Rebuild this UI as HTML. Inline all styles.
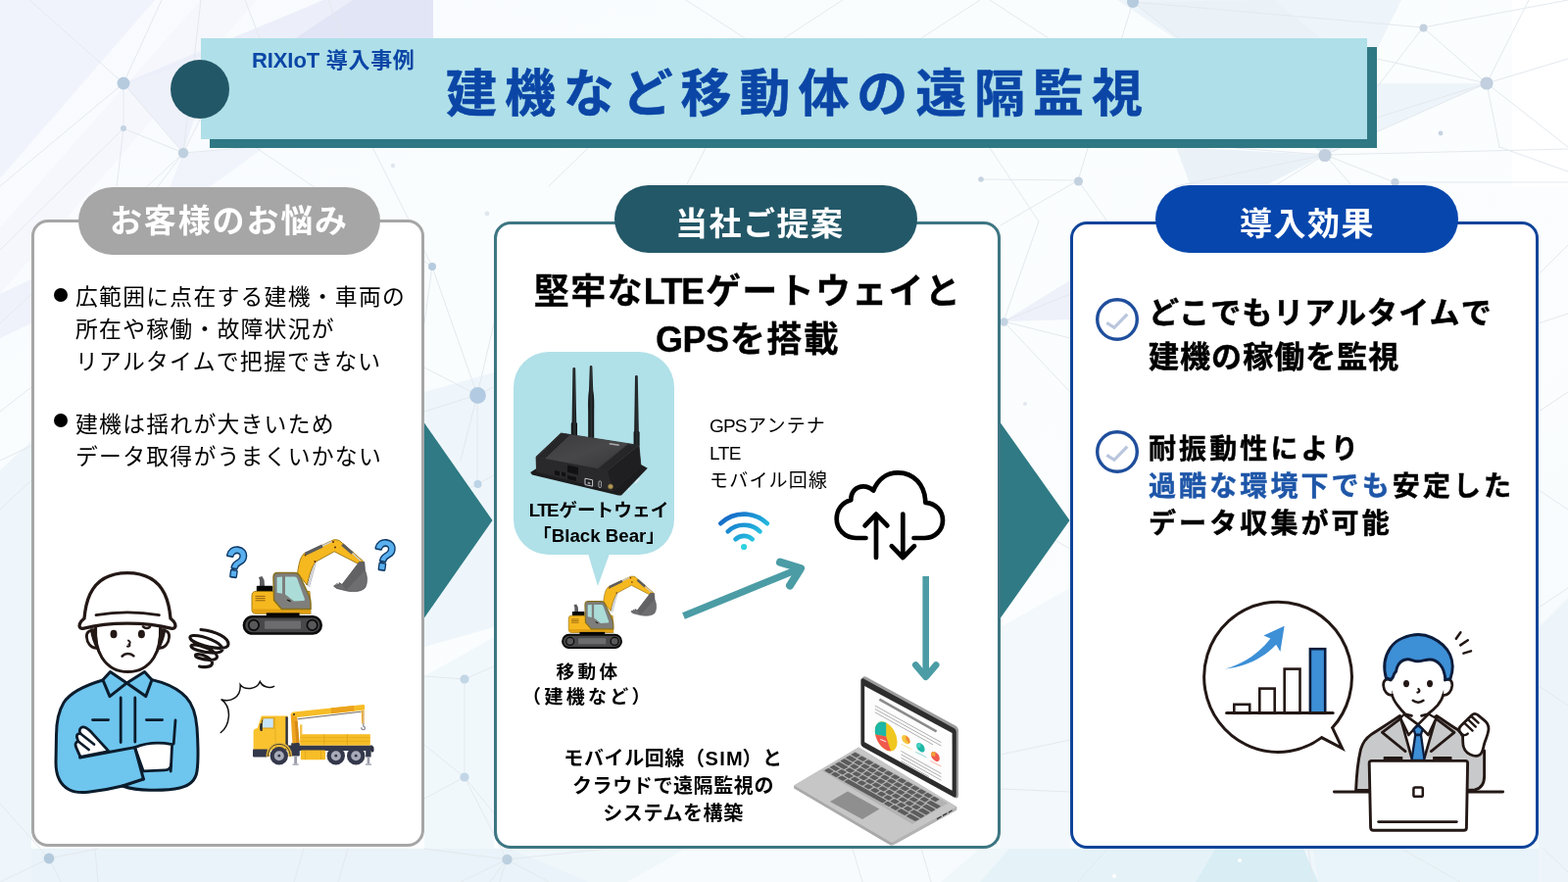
<!DOCTYPE html>
<html lang="ja">
<head>
<meta charset="utf-8">
<title>建機など移動体の遠隔監視</title>
<style>
*{margin:0;padding:0;box-sizing:border-box}
html,body{width:1600px;height:900px;overflow:hidden;background:#f7fbfd}
body{font-family:"Liberation Sans","Noto Sans CJK JP",sans-serif;color:#000;position:relative}
.abs{position:absolute}
svg.layer{position:absolute;left:0;top:0;width:1600px;height:900px;overflow:visible}
.t{position:absolute;white-space:nowrap;line-height:1;will-change:transform}
.t span{line-height:0}
.b{font-weight:700}
.c{text-align:center}
.card{position:absolute;background:#fff;border-style:solid;border-width:3.7px;border-radius:17px}
.pill{position:absolute;border-radius:40px;color:#fff;font-weight:700;text-align:center;white-space:nowrap}
</style>
</head>
<body>

<!-- BACKGROUND -->
<svg class="layer" id="bg" viewBox="0 0 1600 900">
<defs>
<linearGradient id="bgBase" x1="0" y1="0" x2="1" y2="1">
<stop offset="0" stop-color="#f8fafe"/><stop offset="0.3" stop-color="#fafdfe"/><stop offset="0.7" stop-color="#fbfdfe"/><stop offset="1" stop-color="#f3f9fc"/>
</linearGradient>
</defs>
<rect x="0" y="0" width="1600" height="900" fill="url(#bgBase)"/>
<!-- pale polygons -->
<g stroke="none">
<polygon points="0,0 158,0 0,182" fill="#f1f3fc"/>
<polygon points="0,232 205,0 262,0 0,300" fill="#f3f5fc" opacity="0.7"/>
<polygon points="126,85 330,0 442,0 442,45 205,64" fill="#eceff9"/>
<polygon points="360,0 442,0 442,40 300,40" fill="#e1e5f6"/>
<polygon points="126,85 205,62 205,100 187,156" fill="#eef1fa"/>
<polygon points="187,156 270,150 215,190 160,225" fill="#eef1fa" opacity="0.8"/>
<polygon points="1140,0 1430,0 1352,158 1200,40" fill="#eef5fa"/>
<polygon points="1156,2 1300,0 1405,85 1352,158" fill="#e8f1f8" opacity="0.8"/>
<polygon points="1405,85 1517,85 1352,158" fill="#eef5fa"/>
<polygon points="1200,150 1352,158 1290,190 1215,190" fill="#eaf2f8"/>
<polygon points="1543,0 1600,0 1600,190 1543,190" fill="#ffffff"/>
<polygon points="433,400 504,380 504,640 433,660" fill="#eef6fb"/>
<polygon points="433,690 504,650 504,880 433,880" fill="#f1f8fc"/>
<polygon points="1021,640 1092,600 1092,900 1021,900" fill="#f2f8fb"/>
<polygon points="1024,328 1092,286 1092,326" fill="#eef0fa"/>
<polygon points="0,866 1600,866 1600,900 0,900" fill="#eff7fb"/>
<polygon points="0,866 520,866 600,900 0,900" fill="#e9f3f9"/>
<polygon points="1340,866 1600,866 1600,900 1345,900" fill="#e8f4f9"/>
<polygon points="1000,900 1030,866 1240,866 1220,900" fill="#e5f3f8"/>
<polygon points="1220,900 1240,866 1330,866 1345,900" fill="#d8edf4"/>
<polygon points="640,900 700,866 1000,866 960,900" fill="#f7fbfd"/>
<polygon points="1570,640 1600,610 1600,900 1570,900" fill="#eef5fa"/>
<polygon points="0,480 32,450 32,900 0,900" fill="#eef6fb"/>
<polygon points="0,300 32,285 32,330 0,345" fill="#f0f2fb"/>
</g>
<!-- lines -->
<g stroke="#e4e9ee" stroke-width="1" fill="none" stroke-linecap="round">
<path d="M126 85 L30 0 M126 85 L165 0 M126 85 L0 190 M126 85 L126 131 M126 85 L187 156 M126 131 L187 156 M126 131 L118 200 M187 156 L205 0 M187 156 L205 120 M187 156 L260 150 M187 156 L150 205 M187 156 L0 330 M126 131 L0 255"/>
<path d="M250 0 L265 39 M335 0 L350 39 M0 420 L32 395 M0 470 L32 455 M0 520 L32 490"/>
<path d="M260 150 L441 272 M441 272 L487 403 M441 272 L433 330 M380 150 L441 272 M487 403 L433 375 M487 403 L433 420 M487 403 L504 395 M487 403 L487 494 M487 403 L504 330 M487 403 L470 470 M487 494 L504 485 M487 494 L433 520"/>
<path d="M433 690 L474 693 M474 693 L504 680 M474 693 L474 793 M474 793 L433 815 M474 793 L504 830 M474 793 L517 877 M433 760 L474 793"/>
<path d="M50 876 L0 820 M50 876 L0 900 M50 876 L100 866 M50 876 L62 900 M517 877 L433 866 M517 877 L470 900 M517 877 L500 900 M517 877 L560 900 M517 877 L620 866 M517 877 L510 900 M97 866 L100 900 M310 866 L300 900 M355 866 L345 900"/>
<path d="M1001 183 L1100 184 M1100 184 L1156 2 M1100 184 L1021 230 M1100 184 L1130 226 M1156 2 L1352 158 M1156 2 L1452 28 M1452 28 L1517 85 M1452 28 L1600 0 M1452 28 L1352 158 M1517 85 L1352 158 M1517 85 L1405 60 M1517 85 L1405 120 M1517 85 L1600 60 M1517 85 L1600 150 M1517 85 L1530 150 M1517 85 L1560 0 M1352 158 L1600 152 M1352 158 L1200 190 M1352 158 L1423 186 M1352 158 L1405 110 M1352 158 L1300 190 M1352 158 L1380 190 M1352 158 L1260 151 M1423 186 L1600 186 M1530 150 L1600 175"/>
<path d="M1024 328 L1092 300 M1024 328 L1092 400 M1024 328 L1060 226 M1024 328 L1092 345 M1021 520 L1092 560 M1021 770 L1092 755 M1021 805 L1092 808"/>
<path d="M1570 280 L1600 250 M1570 330 L1600 320 M1570 420 L1600 400 M1570 500 L1600 520 M1570 620 L1600 600 M1570 700 L1600 720 M1575 866 L1600 890 M1100 900 L1130 866 M950 900 L940 866 M880 900 L870 866 M1340 900 L1335 866 M1430 866 L1490 900"/>
<path d="M700 0 L760 39 M860 0 L800 39 M1000 0 L940 39 M1010 0 L1070 39 M600 151 L560 190 M720 151 L700 190 M1010 151 L1060 226"/>
</g>
<!-- nodes -->
<g fill="#b6cbde">
<circle cx="126" cy="85" r="6.5"/><circle cx="126" cy="131" r="3" fill="#c3d3e2"/><circle cx="187" cy="156" r="5.2" fill="#bed0e0"/>
<circle cx="441" cy="272" r="4" /><circle cx="401" cy="169" r="2.2" fill="#dfe6ee"/><circle cx="497" cy="218" r="2.4" fill="#e0e6ee"/>
<circle cx="487.5" cy="403.5" r="8.4" fill="#b3cbe2"/><circle cx="487.5" cy="494" r="4" fill="#bdd3e6"/>
<circle cx="474" cy="693" r="4.6" fill="#c2d6e6"/><circle cx="474" cy="793" r="4.6" fill="#c2d6e6"/>
<circle cx="50" cy="876" r="5.4" fill="#b3cadd"/><circle cx="517.5" cy="877" r="5.2" fill="#bdd0df"/>
<circle cx="1001" cy="183" r="2.8" fill="#c6d3e0"/><circle cx="1100.5" cy="185" r="4.6" fill="#c3d1df"/><circle cx="1156" cy="2" r="6"/>
<circle cx="1452.5" cy="28.5" r="4" fill="#c3d1df"/><circle cx="1517" cy="85" r="6.6" fill="#c1cfde"/><circle cx="1352" cy="158.5" r="6.6" fill="#c1cfde"/>
<circle cx="1470" cy="136" r="2.4" fill="#c6d3e0"/><circle cx="1423.5" cy="186" r="4.2" fill="#c6d3e0"/>
<circle cx="1024.5" cy="328.5" r="4.2" fill="#c3d3e2"/><circle cx="1046" cy="412" r="2" fill="#e3e8ef"/>
<circle cx="1265" cy="878" r="2" fill="#ffffff"/><circle cx="1137" cy="894" r="2" fill="#ffffff"/>
</g>

</svg>

<!-- HEADER -->
<div class="abs" style="left:214.2px;top:48px;width:1190.8px;height:102.8px;background:#2e7884"></div>
<div class="abs" style="left:204.5px;top:39px;width:1190.5px;height:103px;background:#afdfe8"></div>
<div class="abs" style="left:174px;top:60.7px;width:60px;height:60px;border-radius:50%;background:#225767"></div>
<div class="t b" id="sub" style="left:257.2px;top:50.5px;font-size:22px;letter-spacing:0.65px;color:#0b46a6"><span id="sub_l" style="letter-spacing:-0.1px">RIXIoT</span> 導入事例</div>
<div class="t b" id="title" style="left:454.5px;top:70.1px;font-size:52px;letter-spacing:7.9px;color:#0b46a6;-webkit-text-stroke:0.5px #0b46a6">建機など移動体の遠隔監視</div>

<!-- ARROWS BETWEEN PANELS -->
<svg class="layer" viewBox="0 0 1600 900">
<polygon points="420,413 502.5,531 420,649" fill="#2f7a84"/>
<polygon points="1010,416 1091.5,531 1010,646" fill="#2f7a84"/>
</svg>

<!-- PANEL 1 -->
<div class="card" style="left:32px;top:224.3px;width:401px;height:639.7px;border-color:#a6a6a6"></div>
<div class="pill" style="left:79.8px;top:190.8px;width:308.2px;height:68.8px;background:#a6a6a6"></div>
<div class="t b" id="p1h" style="left:111.5px;top:209.4px;font-size:33px;letter-spacing:1.85px;color:#fff">お客様のお悩み</div>

<div class="abs" style="left:55.2px;top:294.4px;width:14px;height:14px;border-radius:50%;background:#000"></div>
<div class="t" id="p1a" style="left:76.8px;top:286.5px;font-size:22.8px;letter-spacing:1.28px;line-height:33px">広範囲に点在する建機・車両の<br>所在や稼働・故障状況が<br>リアルタイムで把握できない</div>
<div class="abs" style="left:55.2px;top:422.4px;width:14px;height:14px;border-radius:50%;background:#000"></div>
<div class="t" id="p1b" style="left:76.8px;top:416.6px;font-size:22.8px;letter-spacing:1.28px;line-height:33.3px">建機は揺れが大きいため<br>データ取得がうまくいかない</div>

<!-- PANEL 2 -->
<div class="card" style="left:504.2px;top:226px;width:516.8px;height:640px;border-color:#3d7683"></div>
<div class="pill" style="left:626.8px;top:189px;width:309.2px;height:69px;background:#235868"></div>
<div class="t b" id="p2h" style="left:689.2px;top:212px;font-size:33px;letter-spacing:1.5px;color:#fff">当社ご提案</div>

<div class="t b c" id="p2t" style="left:504.5px;width:516px;top:273px;font-size:36px;letter-spacing:1.3px;line-height:49px;-webkit-text-stroke:0.3px #000">堅牢な<span id="p2t_l1" style="letter-spacing:-1.5px;margin-right:2.5px">LTE</span>ゲートウェイと<br><span id="p2t_l2" style="letter-spacing:-0.5px;margin-right:1.5px">GPS</span>を搭載</div>

<div class="abs" style="left:524px;top:359px;width:164px;height:207px;border-radius:36px;background:#b0e0e8"></div>
<svg class="layer" viewBox="0 0 1600 900">
<polygon points="600,565 622,565 610,598" fill="#b0e0e8"/>
</svg>
<div class="t b c" id="gwl" style="left:528.5px;width:164px;top:508px;font-size:18.7px;line-height:26px"><span id="gwl_l1" style="letter-spacing:-1.5px;margin-right:1.2px">LTE</span>ゲートウェイ<br>「<span id="gwl_l2">Black Bear</span>」</div>

<div class="t" id="gps" style="left:724px;top:421px;font-size:19px;letter-spacing:1.2px;line-height:27.8px"><span id="gps_l1" style="letter-spacing:-0.9px;margin-right:1.6px">GPS</span>アンテナ<br><span id="gps_l2" style="letter-spacing:-0.5px">LTE</span><br>モバイル回線</div>

<div class="t b c" id="mob" style="left:530px;width:140px;top:673px;font-size:19px;letter-spacing:3.3px;line-height:25.5px"><span style="font-size:18.6px;letter-spacing:3.45px;margin-left:1px">移動体</span><br>（建機など）</div>

<div class="t b c" id="p2b" style="left:546.8px;width:280px;top:761.3px;font-size:20px;letter-spacing:0.6px;line-height:27.8px">モバイル回線（<span id="p2b_l" style="letter-spacing:1.3px;margin-right:-1.6px">SIM</span>）と<br>クラウドで遠隔監視の<br>システムを構築</div>

<!-- PANEL 3 -->
<div class="card" style="left:1092px;top:226px;width:478px;height:640px;border-color:#0e4499"></div>
<div class="pill" style="left:1179px;top:189px;width:309px;height:69px;background:#0747ad"></div>
<div class="t b" id="p3h" style="left:1265px;top:211.5px;font-size:33px;letter-spacing:1.5px;color:#fff">導入効果</div>

<div class="t b" id="p3a" style="left:1171.6px;top:297.8px;font-size:31px;letter-spacing:1.05px;line-height:44.7px;-webkit-text-stroke:0.5px #000">どこでもリアルタイムで<br>建機の稼働を監視</div>
<div class="t b" id="p3b" style="left:1172px;top:440px;font-size:28px;letter-spacing:3.1px;line-height:38.2px;-webkit-text-stroke:0.45px">耐振動性により<br><span style="color:#1e56a8">過酷な環境下でも</span>安定した<br>データ収集が可能</div>

<!-- ICONS / ILLUSTRATIONS -->
<svg class="layer" id="art" viewBox="0 0 1600 900">
<defs>
<linearGradient id="wifiG" gradientUnits="userSpaceOnUse" x1="740" y1="522" x2="768" y2="560">
<stop offset="0" stop-color="#1560c4"/><stop offset="0.55" stop-color="#1e9fd8"/><stop offset="1" stop-color="#2fd6e2"/>
</linearGradient>
</defs>
<!-- check icons -->
<g fill="none" stroke-linecap="round" stroke-linejoin="round">
<circle cx="1140" cy="326" r="20.3" stroke="#1f4e9c" stroke-width="3.4" fill="#fff"/>
<path d="M1129.3 329.3 L1137 334.3 L1150.3 320.6" stroke="#b9c6dd" stroke-width="3.2" stroke-linecap="butt" stroke-linejoin="miter"/>
<circle cx="1140" cy="461" r="20.3" stroke="#1f4e9c" stroke-width="3.4" fill="#fff"/>
<path d="M1129.3 464.3 L1137 469.3 L1150.3 455.6" stroke="#b9c6dd" stroke-width="3.2" stroke-linecap="butt" stroke-linejoin="miter"/>
</g>
<!-- diagonal arrow -->
<g fill="none" stroke="#4b9ca5" stroke-linejoin="round">
<path d="M697.5 628.5 L814 581" stroke-width="7.2" stroke-linecap="butt"/>
<path d="M796 573.6 L817 580 L806 597.5" stroke-width="8" stroke-linecap="round"/>
<!-- down arrow -->
<path d="M944.7 588 L944.7 690" stroke-width="6.6" stroke-linecap="butt"/>
<path d="M934.3 678.5 L944.7 690.8 L955.2 678.5" stroke-width="6.6" stroke-linecap="round"/>
</g>
<!-- wifi -->
<g fill="none" stroke="url(#wifiG)" stroke-width="4.6" stroke-linecap="round">
<path d="M735.4 534.2 A34 34 0 0 1 782.8 534.2"/>
<path d="M742.8 542.3 A23.5 23.5 0 0 1 775.4 542.3"/>
<path d="M750.6 550.2 A12.5 12.5 0 0 1 767.6 550.2"/>
</g>
<circle cx="759.1" cy="558" r="3.1" fill="#2fd2e0"/>
<!-- cloud -->
<g fill="none" stroke="#000" stroke-width="4.7" stroke-linecap="round" stroke-linejoin="round">
<path d="M883.5 549 L873.5 549 C862 549 853.7 540 853.7 529.5 C853.7 520 859.5 512.5 868.3 510.2 C868.3 502 873.5 496.3 881 496.3 C885 496.3 888.3 497.8 891.2 500.6 C895.5 489.5 904.5 482.3 916.5 482.3 C932 482.3 944 494.5 944.3 512.8 C954.5 513.5 962 521 962 531 C962 541 954 549 943.5 549 L932.5 549"/>
<path d="M894 569 L894 524.8 M882.6 536.4 L894 524.6 L905.4 536.4"/>
<path d="M921.3 524.5 L921.3 569 M909.8 557.2 L921.3 569 L933 557.2"/>
</g>
<!-- callout question marks -->
<g font-family="'Liberation Sans','DejaVu Sans',sans-serif" font-weight="700" fill="#5ab0ee" stroke="#0e3a68" stroke-width="3.2" paint-order="stroke" stroke-linejoin="round" style="paint-order:stroke">
<text x="0" y="0" font-size="42.5" text-anchor="middle" transform="translate(238.8 588.3) rotate(8) scale(0.86 1)">?</text>
<text x="0" y="0" font-size="42.5" text-anchor="middle" transform="translate(390.3 581) rotate(8) scale(0.86 1)">?</text>
</g>
<!-- spiral scribble -->
<path d="M205 642.5 C221 644 233.5 651 233 657.5 C232.5 663.5 216 662 203 657 C193 653.5 191.5 649 197 648.5 C207 648 226 655.5 227 662 C227.5 667.5 213 667 201.5 663.5 C194.5 661.5 193 658 197.5 658 C205.5 658 221 664.5 221.5 670 C221.5 674.5 210 674 203 671.5 C198.5 670 198.5 667.5 202 667.5 C208 667.5 217 672.5 216.5 677 C216 681 207 681 203.5 680" fill="none" stroke="#1a1413" stroke-width="3.1" stroke-linecap="round" stroke-linejoin="round"/>
<!-- shout lines -->
<path d="M225.3 747.5 C234 741 238 722 225.6 713.6 C235 717 246 712 245.2 698.8 C249.5 704.5 262 704 265.3 695.6 C267.5 700.5 274.5 703 279.6 700.4" fill="none" stroke="#111" stroke-width="1.5" stroke-linecap="round" stroke-linejoin="miter"/>
<g id="worker" stroke-linecap="round" stroke-linejoin="round" fill="none">
<!-- body -->
<path d="M105 694 C88 699 72 706 65 717 C59 727 57.5 738 57.5 750 L57 778 C57 792 62 801 70 805.5 C76 808.8 83 809 90 808.2 C103 806.8 114 804.8 125 802 C134 805.2 143 806.2 153 806.2 C164 806.4 175 806 183.5 804 C193 801.8 199.5 797 201 787 C202.4 777 202.2 760 201 742.5 C200 730 197 719 190 711.5 C183 704 174 699.5 165 696.4 L155 693.6 L129.4 697 Z" fill="#6ec5ee" stroke="#0b1c2c" stroke-width="3"/>
<!-- neck -->
<path d="M112.5 685.6 L129.4 696.9 L147.5 685.6 L147.5 680 L112.5 680 Z" fill="#fff" stroke="none"/>
<!-- collar -->
<path d="M105 693.8 L112.5 685.6 L129.4 696.9 L112 710.6 Z" fill="#6ec5ee" stroke="#0b1c2c" stroke-width="3"/>
<path d="M147.5 685.6 L155 693.8 L148.8 710.6 L129.4 696.9 Z" fill="#6ec5ee" stroke="#0b1c2c" stroke-width="3"/>
<!-- shirt details -->
<path d="M123.2 712 V757.5 M137.8 712 V757" stroke="#0b1c2c" stroke-width="2.8"/>
<path d="M94.5 734.6 H110.6 M149.4 734.6 H165.6" stroke="#0b1c2c" stroke-width="2.8"/>
<path d="M179 735 L177.2 759" stroke="#0b1c2c" stroke-width="2.8"/>
<!-- right forearm (white) -->
<path d="M137.6 762.6 C148 758.4 160 756.6 175.6 759.6 L174.6 780 C174.4 784 172 785.8 168 785.8 L146.2 786.8 Z" fill="#fff" stroke="#0b1c2c" stroke-width="2.8"/>
<path d="M174.6 780 L174.2 787" stroke="#0b1c2c" stroke-width="2.8"/>
<!-- left sleeve edge + cuff -->
<path d="M81.6 773 L137.6 762.6 L146.4 795" stroke="#0b1c2c" stroke-width="3"/>
<path d="M125 802 L146.4 795" stroke="#0b1c2c" stroke-width="3"/>
<!-- left hand (white) -->
<path d="M82 772.4 L77.6 762.4 C76.4 759.6 77.4 757 79.8 756.4 L78.6 752.8 C77.8 750 79.6 748 82 748.4 L81.4 746.6 C80.8 743.2 83.4 741.2 86.4 742.2 C89 743 91 745 93.6 747.6 L111 766.6 Z" fill="#fff" stroke="#0b1c2c" stroke-width="2.8"/>
<path d="M82 748.6 L96 759.6 M79.8 756.4 L90.6 765" stroke="#0b1c2c" stroke-width="2.6"/>
<!-- head -->
<path d="M97.6 640 C97 652 99 663 104 671 C110 680.4 119 685.6 130.4 685.6 C142 685.6 151 680.4 157 671 C162 663 164 652 163.6 640" fill="#fff" stroke="#231815" stroke-width="3"/>
<!-- ears + strap -->
<path d="M97.4 645.4 C92 641.6 88 644.6 88.4 650 C88.8 656 92.6 661 98.6 661.4" fill="#fff" stroke="#231815" stroke-width="2.8"/>
<path d="M163.8 645.4 C169 641.6 173 644.6 172.6 650 C172.2 656 168.6 661 162.6 661.4" fill="#fff" stroke="#231815" stroke-width="2.8"/>
<path d="M92.6 642 C93.4 648 95.6 656 99.6 663 L104 671 L99 660 L97.8 642 Z" fill="#231815" stroke="#231815" stroke-width="1.6"/>
<path d="M168.6 642 C167.8 648 165.6 656 161.6 663 L157 671 L162 660 L163.4 642 Z" fill="#231815" stroke="#231815" stroke-width="1.6"/>
<!-- helmet -->
<path d="M84.6 641.4 C81.6 641.8 80.4 639.4 81.4 636.6 C82.2 634.2 84 632.6 86 631 C86.8 622 88.4 613.6 92 606 C99 591.6 113 584.6 130 584.6 C147 584.6 161 591.6 168 606 C171.6 613.6 173.2 622 174 631 C176 632.6 177.8 634.2 178.6 636.6 C179.6 639.4 178.4 641.8 175.4 641.4 C160 637.4 145 636.2 130 636.2 C115 636.2 100 637.4 84.6 641.4 Z" fill="#fff" stroke="#231815" stroke-width="3.3"/>
<path d="M98 627.6 C119 624 141 624 162.4 627.6" stroke="#231815" stroke-width="2.8"/>
<!-- face -->
<ellipse cx="116" cy="647" rx="3.5" ry="4.3" fill="#231815"/>
<ellipse cx="144.4" cy="647" rx="3.5" ry="4.3" fill="#231815"/>
<path d="M146 639.4 C148 641.4 151.6 641.6 153 639.6" stroke="#231815" stroke-width="2.6"/>
<path d="M131 653.6 C133.4 654.6 133 657 131.4 657.4 C133.2 658 132.6 660 130 659.6" stroke="#231815" stroke-width="2"/>
<path d="M124.6 669.6 C127.6 666.2 133.4 666.2 136.4 669.4" stroke="#231815" stroke-width="2.6"/>
</g>
<defs>
<g id="exc">
<!-- under-boom hydraulic rods -->
<path d="M322.5 573 L315.5 599 M320.8 573 L314 598 M319.3 572 L312.5 597" stroke="#a9acb6" stroke-width="0.9" fill="none"/>
<!-- boom -->
<path d="M303.6 585 C304.4 578 305.6 572.6 307.4 568.6 L309.8 565.2 L337.6 552.2 C340 550.4 344 550.2 346.6 551.8 L370.5 572.6 L367.6 576.4 L341.2 562.8 L321.8 573.4 C318 579 315 588 313.4 597 Z" fill="#f6b81f" stroke="#9a7412" stroke-width="0.9" stroke-linejoin="round"/>
<path d="M311.6 565.2 L329 557" stroke="#5c5c5e" stroke-width="3.4" stroke-linecap="butt" fill="none"/>
<path d="M329 557 L338.5 552.6" stroke="#c9ccd4" stroke-width="1.4" fill="none"/>
<path d="M349.3 555.6 L359.6 564.6" stroke="#5c5c5e" stroke-width="3.2" fill="none"/>
<path d="M359.6 564.6 L367.8 572" stroke="#c9ccd4" stroke-width="1.4" fill="none"/>
<circle cx="340" cy="553" r="1" fill="#5a2a10"/><circle cx="342" cy="558.6" r="1" fill="#5a2a10"/><circle cx="311.5" cy="566.5" r="0.9" fill="#5a2a10"/><circle cx="321.3" cy="573" r="0.9" fill="#5a2a10"/>
<!-- bucket -->
<path d="M366.6 573.4 L371.8 573.6 L372.4 582 C375 588 375.3 595 372.4 600 C369 603.4 362 604.4 354 603 L343.5 600.4 L340.6 598.2 L342 596.6 L344 598 L343.6 595.4 L346 597 L346 594.6 L349 596.4 Z" fill="#6e6e70" stroke="#4a4a4c" stroke-width="0.7" stroke-linejoin="round"/>
<path d="M366.6 573.4 L371.8 573.6 L372.4 582 L353 602.6 L349 596.4 Z" fill="#5a5a5c" opacity="0.55"/>
<!-- engine / exhaust -->
<path d="M265 598 L265 592.5 L264 589 L267.5 588 L269.6 592 L270 598 Z" fill="#5c5c5e"/>
<rect x="261.8" y="597.8" width="16.6" height="6.4" rx="1" fill="#050505"/>
<!-- body -->
<path d="M261 603.4 L316 603.4 L317 626.2 L261 626.2 C258.5 626.2 257 624.5 257 622.5 L257 607.5 C257 605 258.6 603.4 261 603.4 Z" fill="#f6b81f" stroke="#9a7412" stroke-width="0.9"/>
<path d="M257.4 621.6 L316.8 621.6 L317 626 L261 626 C258.6 626 257.4 624.4 257.4 622.6 Z" fill="#e2a112"/>
<path d="M260.6 608.4 H270.6 M260.6 610.6 H270.6 M260.6 612.8 H270.6" stroke="#7a4b12" stroke-width="0.8" fill="none"/>
<!-- cab -->
<path d="M279 589 C279 586 280.6 584.4 283.4 584.4 L300.4 584.4 C303.4 584.4 305 585.8 306.2 588.4 L315.4 608 C316.6 610.8 317 613 317 616 L317 621.4 L287.4 621.4 L279.6 612.6 Z" fill="#7e7e7c" stroke="#86701c" stroke-width="1.5" stroke-linejoin="round"/>
<path d="M282.6 589 L288 588.6 L288 605.8 L282.6 604.8 Z" fill="#abdcd8"/>
<path d="M291 588.6 L300.6 588.6 C302 588.6 302.8 589.4 303.4 590.8 L310.8 611 C311.2 612.4 310.6 613 309.4 613 L300 613.6 L291 606.4 Z" fill="#abdcd8"/>
<path d="M293 612 L296.4 613.6" stroke="#111" stroke-width="1.3" fill="none"/>
<!-- undercarriage -->
<rect x="271.8" y="625.4" width="33.8" height="4" fill="#050505"/>
<rect x="248.9" y="629.3" width="78.8" height="17.2" rx="8.6" fill="#48484a" stroke="#0a0a0a" stroke-width="2.6"/>
<circle cx="258.9" cy="637.9" r="5.2" fill="#58585a" stroke="#0a0a0a" stroke-width="1.7"/>
<circle cx="318.6" cy="637.9" r="5.2" fill="#58585a" stroke="#0a0a0a" stroke-width="1.7"/>
<rect x="270" y="633.6" width="37" height="8.2" rx="0.8" fill="#6c6c6e"/>
</g>
</defs>
<use href="#exc"/>
<use href="#exc" transform="translate(573 661.9) scale(0.761) translate(-247.5 -647.75)"/>
<g id="truck">
<!-- chassis -->
<rect x="293" y="760.4" width="87.4" height="5.6" rx="1" fill="#34384b"/>
<rect x="378.5" y="761.5" width="3" height="6" rx="1.5" fill="#2a2d3c"/>
<!-- outriggers -->
<rect x="297.2" y="758" width="8.6" height="13.6" rx="1" fill="#34384b"/>
<rect x="300.2" y="771" width="2.8" height="9" fill="#9a9da8"/>
<rect x="298.6" y="779.2" width="6" height="1.8" fill="#b4b6bf"/>
<rect x="373.2" y="765" width="5.4" height="7.5" fill="#34384b"/>
<rect x="374.6" y="772" width="2.6" height="8" fill="#9a9da8"/>
<rect x="373" y="779.2" width="6" height="1.8" fill="#b4b6bf"/>
<!-- tank -->
<rect x="306.8" y="765.6" width="25.2" height="9.6" rx="1" fill="#f7bd27"/>
<path d="M311.5 766 V775 M327.5 766 V775" stroke="#e0a51c" stroke-width="0.8"/>
<!-- flatbed -->
<rect x="306.2" y="749.2" width="71.6" height="11.4" fill="#f7bd27"/>
<path d="M306.2 752.6 H377.8 M306.2 756.4 H377.8" stroke="#e8ad1e" stroke-width="0.9"/>
<path d="M330.8 749.2 V760.6 M354.4 749.2 V760.6" stroke="#e0a51c" stroke-width="0.9"/>
<rect x="306" y="739.4" width="2.4" height="10.4" fill="#f2c44a"/>
<!-- crane column -->
<path d="M296.6 728.5 L302.8 728 L305.6 757.8 L298.4 758.4 Z" fill="#eea41f"/>
<path d="M300.6 736 L303.6 735.5 L305.4 757.8 L302.4 758 Z" fill="#d88c17"/>
<!-- boom -->
<path d="M297.4 729.4 C296.8 727.8 297.8 726.8 299.6 726.6 L370.6 719 C371.6 719 372.2 719.6 372.2 720.6 L372.2 724.6 L303.8 732 Z" fill="#f7bd27"/>
<path d="M337.6 722.6 L361 720.1 L361.4 725.6 L338 728.2 Z" fill="#eca31d"/>
<path d="M303.6 733.8 L368.6 726.2" stroke="#4a4038" stroke-width="0.8" fill="none"/>
<circle cx="300" cy="729" r="1.1" fill="#3a2d20"/>
<!-- hook -->
<path d="M368.8 725 L371.6 725 L371.6 738.6 L369.2 738.6 Z" fill="#eea41f"/>
<path d="M370.8 725 V738" stroke="#c7c9d2" stroke-width="0.8"/>
<path d="M370.8 738.6 V741 C373 741.6 373 744.6 370.8 744.6 C369.4 744.6 368.8 743.6 368.8 742.6" stroke="#8c8f99" stroke-width="1.3" fill="none" stroke-linecap="round"/>
<!-- cab -->
<path d="M266.8 730.6 L293.4 730.6 L293.4 765.4 L258.6 765.4 L258.6 746.6 C258.6 745 259.4 744 260.8 743.6 L262.6 743 Z" fill="#f9c22e"/>
<rect x="291.4" y="731.4" width="2.4" height="34" fill="#2e3040"/>
<path d="M280.6 731 L281.4 765" stroke="#e5ae22" stroke-width="0.9"/>
<path d="M267.6 732.2 L279.8 732.2 L279.8 743.6 L266 743.6 Z" fill="#d79c18"/>
<path d="M268.8 733.2 L278.8 733.2 L278.8 742.6 L267.4 742.6 Z" fill="#c6e5f8"/>
<path d="M265.8 738.2 C266.6 737.8 267.6 738.2 267.6 739.2 L267.8 745 C267.8 746 266.6 746.4 265.8 745.8 C265 745 264.8 739 265.8 738.2 Z" fill="#2b2b33"/>
<path d="M266.4 744 L267.6 734.6" stroke="#2b2b33" stroke-width="0.8"/>
<!-- bumper -->
<rect x="258" y="764.4" width="15" height="8" rx="0.8" fill="#34384b"/>
<!-- fender -->
<path d="M271.6 772 C271.6 763.5 277 757.4 284.8 757.4 C292.5 757.4 298 763.5 298 772 L294.5 772 C294.5 765.5 290.5 761 284.8 761 C279 761 275 765.5 275 772 Z" fill="#e6b93c"/>
<path d="M273.4 772 C273.4 764.6 278 759.4 284.8 759.4 C291.6 759.4 296.2 764.6 296.2 772" stroke="#4a3d2a" stroke-width="1" fill="none"/>
<!-- wheels -->
<g>
<circle cx="284.8" cy="771.2" r="9.2" fill="#34384b"/><circle cx="284.8" cy="771.2" r="5" fill="#a8abb8"/><circle cx="284.8" cy="771.2" r="1.4" fill="#34384b"/>
<circle cx="342.8" cy="771.2" r="9.2" fill="#34384b"/><circle cx="342.8" cy="771.2" r="5" fill="#a8abb8"/><circle cx="342.8" cy="771.2" r="1.4" fill="#34384b"/>
<circle cx="363.2" cy="771.2" r="9.2" fill="#34384b"/><circle cx="363.2" cy="771.2" r="5" fill="#a8abb8"/><circle cx="363.2" cy="771.2" r="1.4" fill="#34384b"/>
</g>
</g>
<defs>
<linearGradient id="gwTop" x1="0" y1="0" x2="1" y2="1"><stop offset="0" stop-color="#3a3a3c"/><stop offset="0.5" stop-color="#474749"/><stop offset="1" stop-color="#333335"/></linearGradient>
<linearGradient id="gwAnt" x1="0" y1="0" x2="1" y2="0"><stop offset="0" stop-color="#0b0d0e"/><stop offset="0.55" stop-color="#2c3234"/><stop offset="1" stop-color="#0b0d0e"/></linearGradient>
</defs>
<g id="gateway">
<!-- antennas -->
<path d="M584.4 376.5 C584.4 374.6 587.2 374.6 587.2 376.5 L588.2 431 L589 432 L589 445 L582.8 444 L582.8 432 L583.6 431 Z" fill="url(#gwAnt)"/>
<path d="M601.8 374.4 C601.8 372.6 604.4 372.6 604.4 374.4 L605.2 398 C606.4 404 606.4 412 606.2 420 L606.2 447 L600.2 446.4 L600.2 420 C600 412 600 404 601 398 Z" fill="url(#gwAnt)"/>
<path d="M648 384.4 C648 382.6 650.8 382.6 650.8 384.4 L651.8 440 L652.6 441 L652.6 455 L646.6 454 L646.6 441 L647.2 440 Z" fill="url(#gwAnt)"/>
<!-- flange -->
<path d="M541.2 482 L547.5 478 L626 497.5 L654 474 L660.8 477.8 L634 505.4 L631 505.6 L543 484.6 Z" fill="#1c1c1e"/>
<path d="M647.6 492.6 L652 488 L653 488.8 L648.6 493.6 Z" fill="#e8eef0"/>
<path d="M640.6 499.4 L642 498 L642.8 498.8 L641.4 500.2 Z" fill="#e8eef0"/>
<!-- box -->
<path d="M547 466.2 L572.5 442 L652 454.4 L654 476.4 L625.4 501 L547.6 481.4 Z" fill="#29292b" stroke="#29292b" stroke-width="0.8" stroke-linejoin="round"/>
<path d="M547 466.2 L620 480 L625.4 501 L547.6 481.4 Z" fill="#29292b"/>
<path d="M620 480 L652 454.4 L654 476.4 L625.4 501 Z" fill="#1f1f21"/>
<path d="M572.5 442 L652 454.4 L620 480 L547 466.2 Z" fill="url(#gwTop)"/>
<!-- ribs -->
<path d="M572.5 442 L582 443.5 L556 467.9 L547 466.2 Z" fill="#2b2b2d"/>
<path d="M575 442.6 L550 466.6 M577.6 443 L552.6 467.2 M580 443.4 L555 467.6" stroke="#1a1a1c" stroke-width="0.7" fill="none"/>
<path d="M641 452.7 L652 454.4 L620 480 L610 478.1 Z" fill="#2b2b2d"/>
<path d="M643.6 453.2 L612.6 478.6 M646.4 453.6 L615.4 479.2 M649.2 454 L618 479.6" stroke="#1a1a1c" stroke-width="0.7" fill="none"/>
<path d="M622 452 L632 453.6 L631.6 455 L621.6 453.4 Z" fill="#b9bcc0" opacity="0.85"/>
<!-- ports -->
<path d="M579 474.5 L590 477 L590 484.4 L579 481.8 Z" fill="#111113"/>
<path d="M566 480 L571 481 L571 485.6 L566 484.6 Z M573 481.6 L577 482.4 L577 486.4 L573 485.6 Z" fill="#111113"/>
<path d="M579 485 L588 487 L588 491 L579 489 Z" fill="#111113"/>
<path d="M597 488.2 L604.6 489.8 L604.6 496.2 L597 494.6 Z" fill="#1a1a1c" stroke="#c9ccd0" stroke-width="1"/>
<path d="M599.6 491.4 L602.4 492 L602.4 494.4 L599.6 493.8 Z" fill="#8a8d90"/>
<rect x="611" y="490.8" width="2.4" height="6.8" rx="1.2" fill="#1a1a1c" stroke="#c9ccd0" stroke-width="0.8"/>
<circle cx="623" cy="496.4" r="2.5" fill="#b59a56" stroke="#6e5f36" stroke-width="0.8"/>
</g>
<defs>
<clipPath id="kbClip"><path d="M872.5 767.6 L965.6 819.4 L931 839.8 L841 786.4 Z"/></clipPath>
<clipPath id="scrClip"><path d="M882.2 700 L971.6 748 L971.6 806.8 L882.2 757.2 Z"/></clipPath>
</defs>
<g id="laptop">
<!-- base -->
<path d="M876.2 762.4 L976.2 823.2 L976.2 826.4 L911 862.6 L908.6 862.6 L810.2 804.6 L810.2 801.4 Z" fill="#a9a9a9"/>
<path d="M876.2 762.4 L976.2 823.2 L910 860 L810.2 801.4 Z" fill="#c6c6c6"/>
<path d="M910 860 L976.2 823.2 L976.2 826.4 L911 862.6 Z" fill="#b4b4b4"/>
<!-- keyboard -->
<path d="M872.5 766.4 L967.4 819.4 L931 841 L839 786.4 Z" fill="#b3b3b3"/>
<g transform="matrix(93.1 51.8 -31.5 18.8 872.5 767.6)" fill="#5c5c5c">
<rect x="0" y="0.000" width="0.060" height="0.137" rx="0.008" ry="0.03"/><rect x="0.072" y="0.000" width="0.060" height="0.137" rx="0.008" ry="0.03"/><rect x="0.145" y="0.000" width="0.060" height="0.137" rx="0.008" ry="0.03"/><rect x="0.217" y="0.000" width="0.060" height="0.137" rx="0.008" ry="0.03"/><rect x="0.289" y="0.000" width="0.060" height="0.137" rx="0.008" ry="0.03"/><rect x="0.361" y="0.000" width="0.060" height="0.137" rx="0.008" ry="0.03"/><rect x="0.434" y="0.000" width="0.060" height="0.137" rx="0.008" ry="0.03"/><rect x="0.506" y="0.000" width="0.060" height="0.137" rx="0.008" ry="0.03"/><rect x="0.578" y="0.000" width="0.060" height="0.137" rx="0.008" ry="0.03"/><rect x="0.651" y="0.000" width="0.060" height="0.137" rx="0.008" ry="0.03"/><rect x="0.723" y="0.000" width="0.060" height="0.137" rx="0.008" ry="0.03"/><rect x="0.795" y="0.000" width="0.060" height="0.137" rx="0.008" ry="0.03"/><rect x="0.867" y="0.000" width="0.060" height="0.137" rx="0.008" ry="0.03"/><rect x="0" y="0.172" width="0.078" height="0.137" rx="0.008" ry="0.03"/><rect x="0.090" y="0.172" width="0.060" height="0.137" rx="0.008" ry="0.03"/><rect x="0.163" y="0.172" width="0.060" height="0.137" rx="0.008" ry="0.03"/><rect x="0.235" y="0.172" width="0.060" height="0.137" rx="0.008" ry="0.03"/><rect x="0.307" y="0.172" width="0.060" height="0.137" rx="0.008" ry="0.03"/><rect x="0.380" y="0.172" width="0.060" height="0.137" rx="0.008" ry="0.03"/><rect x="0.452" y="0.172" width="0.060" height="0.137" rx="0.008" ry="0.03"/><rect x="0.524" y="0.172" width="0.060" height="0.137" rx="0.008" ry="0.03"/><rect x="0.596" y="0.172" width="0.060" height="0.137" rx="0.008" ry="0.03"/><rect x="0.669" y="0.172" width="0.060" height="0.137" rx="0.008" ry="0.03"/><rect x="0.741" y="0.172" width="0.060" height="0.137" rx="0.008" ry="0.03"/><rect x="0.813" y="0.172" width="0.060" height="0.137" rx="0.008" ry="0.03"/><rect x="0.886" y="0.172" width="0.114" height="0.137" rx="0.008" ry="0.03"/><rect x="0" y="0.345" width="0.090" height="0.137" rx="0.008" ry="0.03"/><rect x="0.102" y="0.345" width="0.060" height="0.137" rx="0.008" ry="0.03"/><rect x="0.175" y="0.345" width="0.060" height="0.137" rx="0.008" ry="0.03"/><rect x="0.247" y="0.345" width="0.060" height="0.137" rx="0.008" ry="0.03"/><rect x="0.319" y="0.345" width="0.060" height="0.137" rx="0.008" ry="0.03"/><rect x="0.392" y="0.345" width="0.060" height="0.137" rx="0.008" ry="0.03"/><rect x="0.464" y="0.345" width="0.060" height="0.137" rx="0.008" ry="0.03"/><rect x="0.536" y="0.345" width="0.060" height="0.137" rx="0.008" ry="0.03"/><rect x="0.608" y="0.345" width="0.060" height="0.137" rx="0.008" ry="0.03"/><rect x="0.681" y="0.345" width="0.060" height="0.137" rx="0.008" ry="0.03"/><rect x="0.753" y="0.345" width="0.060" height="0.137" rx="0.008" ry="0.03"/><rect x="0.825" y="0.345" width="0.060" height="0.137" rx="0.008" ry="0.03"/><rect x="0.898" y="0.345" width="0.102" height="0.137" rx="0.008" ry="0.03"/><rect x="0" y="0.517" width="0.102" height="0.137" rx="0.008" ry="0.03"/><rect x="0.114" y="0.517" width="0.060" height="0.137" rx="0.008" ry="0.03"/><rect x="0.187" y="0.517" width="0.060" height="0.137" rx="0.008" ry="0.03"/><rect x="0.259" y="0.517" width="0.060" height="0.137" rx="0.008" ry="0.03"/><rect x="0.331" y="0.517" width="0.060" height="0.137" rx="0.008" ry="0.03"/><rect x="0.404" y="0.517" width="0.060" height="0.137" rx="0.008" ry="0.03"/><rect x="0.476" y="0.517" width="0.060" height="0.137" rx="0.008" ry="0.03"/><rect x="0.548" y="0.517" width="0.060" height="0.137" rx="0.008" ry="0.03"/><rect x="0.620" y="0.517" width="0.060" height="0.137" rx="0.008" ry="0.03"/><rect x="0.693" y="0.517" width="0.060" height="0.137" rx="0.008" ry="0.03"/><rect x="0.765" y="0.517" width="0.060" height="0.137" rx="0.008" ry="0.03"/><rect x="0.837" y="0.517" width="0.060" height="0.137" rx="0.008" ry="0.03"/><rect x="0.910" y="0.517" width="0.090" height="0.137" rx="0.008" ry="0.03"/><rect x="0" y="0.690" width="0.072" height="0.137" rx="0.008" ry="0.03"/><rect x="0.084" y="0.690" width="0.060" height="0.137" rx="0.008" ry="0.03"/><rect x="0.157" y="0.690" width="0.060" height="0.137" rx="0.008" ry="0.03"/><rect x="0.229" y="0.690" width="0.060" height="0.137" rx="0.008" ry="0.03"/><rect x="0.301" y="0.690" width="0.060" height="0.137" rx="0.008" ry="0.03"/><rect x="0.373" y="0.690" width="0.060" height="0.137" rx="0.008" ry="0.03"/><rect x="0.446" y="0.690" width="0.060" height="0.137" rx="0.008" ry="0.03"/><rect x="0.518" y="0.690" width="0.060" height="0.137" rx="0.008" ry="0.03"/><rect x="0.590" y="0.690" width="0.060" height="0.137" rx="0.008" ry="0.03"/><rect x="0.663" y="0.690" width="0.060" height="0.137" rx="0.008" ry="0.03"/><rect x="0.735" y="0.690" width="0.060" height="0.137" rx="0.008" ry="0.03"/><rect x="0.807" y="0.690" width="0.060" height="0.137" rx="0.008" ry="0.03"/><rect x="0.879" y="0.690" width="0.121" height="0.137" rx="0.008" ry="0.03"/><rect x="0.000" y="0.862" width="0.060" height="0.137" rx="0.008" ry="0.03"/><rect x="0.072" y="0.862" width="0.060" height="0.137" rx="0.008" ry="0.03"/><rect x="0.145" y="0.862" width="0.060" height="0.137" rx="0.008" ry="0.03"/><rect x="0.217" y="0.862" width="0.422" height="0.137" rx="0.008" ry="0.03"/><rect x="0.651" y="0.862" width="0.060" height="0.137" rx="0.008" ry="0.03"/><rect x="0.723" y="0.862" width="0.060" height="0.137" rx="0.008" ry="0.03"/><rect x="0.795" y="0.862" width="0.089" height="0.137" rx="0.008" ry="0.03"/><rect x="0.896" y="0.862" width="0.104" height="0.137" rx="0.008" ry="0.03"/>
</g>
<!-- trackpad -->
<path d="M865 807.4 L897.4 825.6 L880 836 L847 818 Z" fill="#8f8f8f"/>
<!-- side ports -->
<path d="M956 835 L960.6 832.4 L960.6 833.8 L956 836.4 Z M962 831.6 L966.4 829.2 L966.4 830.6 L962 833 Z M967.8 828.4 L971.6 826.2 L971.6 827.6 L967.8 829.8 Z" fill="#2e2e2e"/>
<!-- lid -->
<path d="M880.4 691 C881.4 690 882.8 690.2 884 690.8 L975 740.6 C977 741.8 978 743.4 978 745.6 L978 811.6 C978 813.8 977 815 975.4 814.2 L973 813 L973 745 L879 694 Z" fill="#9c9c9c"/>
<path d="M878.4 694.6 C878.4 692.6 879.8 691.8 881.6 692.8 L973.4 743 C975 744 975.8 745.4 975.8 747.2 L975.8 811.4 C975.8 813.4 974.6 814.2 973 813.2 L880.8 762.4 C879.2 761.4 878.4 760 878.4 758.2 Z" fill="#2d2d2d"/>
<path d="M882.2 700 L971.6 748 L971.6 806.8 L882.2 757.2 Z" fill="#fdfdfd"/>
<g clip-path="url(#scrClip)">
<path d="M897.4 713.6 L955.6 746.4" stroke="#8a8a8a" stroke-width="2.4"/>
<path d="M892.8 720 L960.4 757.6 M892.8 723.4 L960.4 761 M892.8 726.8 L952 759.8" stroke="#9a9a9a" stroke-width="0.8"/>
<path d="M919.4 766.4 L960.4 789.4 M919.4 769.8 L960.4 792.8 M919.4 773.2 L960.4 796.2 M919.4 776.6 L948 792.6" stroke="#9a9a9a" stroke-width="0.8"/>
<!-- big pie -->
<g transform="matrix(1 0.5 0 1 904.2 751.4)">
<circle r="12.4" cx="0" cy="0" fill="#f0c71f" transform="scale(0.92 1.12)"/>
<path d="M0 0 L0 -12.4 A12.4 12.4 0 0 0 -12 3.2 Z" fill="#1cb7a6" transform="scale(0.92 1.12)"/>
<path d="M0 0 L-12 3.2 A12.4 12.4 0 0 0 5.2 11.2 Z" fill="#f0594e" transform="scale(0.92 1.12)"/>
<path d="M-6 6 L0 5.4" stroke="#fff" stroke-width="1.2" opacity="0.8"/>
</g>
<g transform="matrix(1 0.5 0 1 924.4 754.6)">
<circle r="4.2" fill="#f6c63a"/><path d="M0 0 L0 -4.2 A4.2 4.2 0 0 1 3.4 2.4 Z" fill="#ef8b3a"/>
<path d="M-5 7 H6" stroke="#f3d98a" stroke-width="0.9"/>
</g>
<g transform="matrix(1 0.5 0 1 939.4 762.8)">
<circle r="4.2" fill="#1cb7a6"/><path d="M0 0 L0 -4.2 A4.2 4.2 0 0 0 -3.8 1.8 Z" fill="#47cfc0"/>
<path d="M-5 7 H6" stroke="#8fd9d0" stroke-width="0.9"/>
</g>
<g transform="matrix(1 0.5 0 1 954.4 772)">
<circle r="4.4" fill="#f0594e"/><path d="M0 0 L0 -4.4 A4.4 4.4 0 0 0 -4.2 1.4 Z" fill="#f3a33a"/>
<path d="M-5 7 H6" stroke="#f4b3a6" stroke-width="0.9"/>
</g>
</g>
</g>
<g id="chart" stroke-linejoin="round" stroke-linecap="round">
<path d="M1359.6 742.6 A75.4 76.6 0 1 0 1348.6 752.6 L1369.6 763.6 Z" fill="#fff" stroke="#231815" stroke-width="3" stroke-linejoin="miter"/>
<path d="M1250 682.6 C1266 678.6 1284 668 1296.4 651.6 L1289.4 648.4 L1310.6 638.8 L1306.4 665 L1302.2 657.8 C1288 672.6 1270 680.6 1250 682.6 Z" fill="#3d8fd6" stroke="none"/>
<g fill="#fff" stroke="#231815" stroke-width="2.6" stroke-linejoin="miter" stroke-linecap="butt">
<rect x="1259.3" y="718.8" width="15.9" height="9"/>
<rect x="1285.3" y="702.6" width="15.4" height="25.2"/>
<rect x="1310.7" y="682.6" width="15.8" height="45.2"/>
<rect x="1336.9" y="662.2" width="15.3" height="65.6" fill="#3d8fd6" stroke="#0b1c3c"/>
</g>
<path d="M1251.6 727.6 H1360.2" stroke="#231815" stroke-width="3" fill="none"/>
</g>
<g id="man" stroke-linejoin="round" stroke-linecap="round" fill="none">
<!-- desk line -->
<path d="M1361.4 808 H1533.6" stroke="#231815" stroke-width="2.9"/>
<!-- suit body -->
<path d="M1383.6 806.4 C1384.2 792 1385.4 778 1388.2 766 C1390 758 1393.6 753.4 1399 749.6 C1408 743.6 1419 737 1428.4 730.4 L1447 744 L1466 730.4 C1473 735 1480 740 1487.4 744.6 C1490 746.4 1491.6 748.4 1493 751 L1503 770 L1514.6 766 L1514.6 792 C1514.6 800 1511 804.6 1505 806 L1497 806.4 Z" fill="#c8c9ca" stroke="#231815" stroke-width="2.9"/>
<!-- shirt V -->
<path d="M1429.4 733.4 L1440.4 773 L1447 778 L1453.6 773 L1465 733.4 L1456.6 728 L1433.6 728 Z" fill="#fff" stroke="#231815" stroke-width="2.7"/>
<!-- neck fill -->
<path d="M1433 722 L1457.4 722 L1457.4 730 L1447 739 L1433 730 Z" fill="#fff" stroke="none"/>
<!-- collar wings -->
<path d="M1433.4 729.4 L1447 739.4 L1437.4 750 L1429.6 734" fill="#fff" stroke="#231815" stroke-width="2.6"/>
<path d="M1457 729.4 L1447 739.4 L1457.4 750 L1465 734" fill="#fff" stroke="#231815" stroke-width="2.6"/>
<!-- tie -->
<path d="M1444.2 750 L1450 750 L1453.6 776 L1440.4 776 Z" fill="#3d8fd6" stroke="#0b1c3c" stroke-width="2.3"/>
<path d="M1442.6 744.2 L1447 740.2 L1451.6 744.2 L1450 749.6 L1444.2 749.6 Z" fill="#3d8fd6" stroke="#0b1c3c" stroke-width="2.3"/>
<!-- lapels -->
<path d="M1429 733.4 L1410.4 747.4 L1434 766.6 M1465.4 733.4 L1484 747.4 L1460.4 766.6" stroke="#231815" stroke-width="2.7"/>
<!-- head -->
<path d="M1418.6 690 C1418 702 1420 712 1426 719.6 C1428.6 723 1431 726 1433.6 728.6 L1457 728.6 C1460 726 1464 723 1467 719.6 C1473 712 1475 702 1474.6 690 L1470 676 L1446 670 L1424 676 Z" fill="#fff" stroke="none"/>
<path d="M1419.4 706 C1421 712 1423 716 1426 719.6 C1428.6 723 1431 726 1434 728.8 L1440.4 730.4 M1473.8 706 C1472.2 712 1470 716 1467 719.6 C1464 723 1460.6 726 1456.6 728.8 L1450.6 730.4" stroke="#231815" stroke-width="2.8"/>
<path d="M1419 694 C1414.6 691.4 1411.4 694.4 1411.6 699.4 C1412 705 1415.6 709.6 1420.6 709.4" fill="#fff" stroke="#231815" stroke-width="2.7"/>
<path d="M1474.4 694 C1478.8 691.4 1482 694.4 1481.8 699.4 C1481.4 705 1477.8 709.6 1472.8 709.4" fill="#fff" stroke="#231815" stroke-width="2.7"/>
<!-- hair -->
<path d="M1414.4 692 C1411.6 682 1412.4 670.6 1418.4 661.6 C1421.6 656.6 1426 653 1431.4 651 C1441 647 1452 646.4 1461 650.6 C1469 654.4 1476 660 1479.6 668 C1483.2 676 1482.6 685 1480 692.6 L1474.8 693.6 C1474.4 688 1473 682.4 1469.6 678.4 C1466 674 1461.4 672.4 1456.4 673.2 C1452.6 673.8 1449.6 675 1446 674.8 C1442.6 674.6 1439.6 672.6 1436 672.8 C1430.6 673.2 1427 677 1425.4 681.6 C1425.2 684.6 1424 686.4 1422.6 687.6 C1422 690 1421 692 1419.6 693.4 Z" fill="#3d8fd6" stroke="#0b1c3c" stroke-width="2.9"/>
<!-- face -->
<ellipse cx="1435" cy="697.6" rx="3" ry="3.6" fill="#231815"/>
<ellipse cx="1459" cy="697.6" rx="3" ry="3.6" fill="#231815"/>
<path d="M1447.4 703 C1449 704.4 1448.6 706.6 1446.4 706.6" stroke="#231815" stroke-width="2.3"/>
<path d="M1441.8 714.8 C1445 717.2 1449.4 717.2 1452.4 714.8" stroke="#231815" stroke-width="2.6"/>
<!-- sparkle -->
<path d="M1490.4 645.2 L1485.8 651.8 M1497.8 653.2 L1490.2 658.4 M1501 664.4 L1493.4 666.6" stroke="#231815" stroke-width="2.5"/>
<!-- fist -->
<path d="M1490.6 748 C1488.4 745.4 1488.6 742.6 1490.8 740.6 L1501.6 730 C1503.4 728.2 1506 728 1508 729.6 L1515 735.4 C1518.2 738 1519.4 741.4 1518.8 745.4 C1518.2 750 1516.6 753 1515.2 757 C1513.8 761 1513.6 764.4 1512.2 767.4 C1510.6 770.8 1506.8 772 1503.2 771 C1498.2 769.6 1494.6 766.4 1493.4 762 C1492.6 758.8 1492.6 754.8 1492.6 751.4 Z" fill="#fff" stroke="#231815" stroke-width="2.8"/>
<path d="M1494.4 737.8 L1502.6 745.6 M1498 734.2 L1505.8 741.6 M1501.4 731 L1508.6 737.6 M1490.6 748 C1493 750.6 1496 750.8 1497.8 748.6" stroke="#231815" stroke-width="2.4"/>
<!-- laptop -->
<path d="M1412.4 772.6 H1430.6 V776.6 H1412.4 Z M1462.8 772.6 H1480.8 V776.6 H1462.8 Z" fill="#231815" stroke="#231815" stroke-width="1.4"/>
<path d="M1399.6 776.4 L1495.4 776.4 C1496.8 776.4 1497.6 777.2 1497.6 778.6 L1496.4 844.6 C1496.4 846.4 1495.4 847.2 1493.8 847.2 L1401.2 847.2 C1399.6 847.2 1398.8 846.4 1398.6 844.6 L1397.2 778.6 C1397.2 777.2 1398 776.4 1399.6 776.4 Z" fill="#fff" stroke="#231815" stroke-width="2.9"/>
<rect x="1442.4" y="803.6" width="9.4" height="9.2" rx="1.6" fill="#fff" stroke="#231815" stroke-width="2.5"/>
<path d="M1406.6 838.6 H1486.4" stroke="#231815" stroke-width="2.7"/>
</g>

</svg>

</body>
</html>
